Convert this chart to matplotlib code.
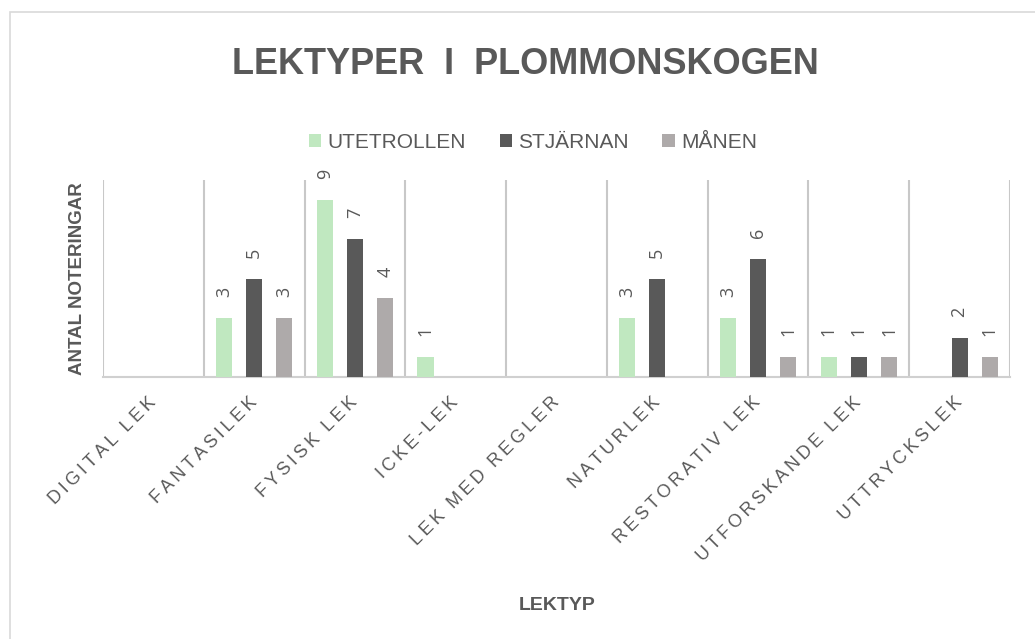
import matplotlib
matplotlib.use("Agg")
import matplotlib.pyplot as plt
import matplotlib.transforms as mtransforms
import numpy as np
from matplotlib.patches import Rectangle

categories = ["DIGITAL LEK", "FANTASILEK", "FYSISK LEK", "ICKE-LEK", "LEK MED REGLER",
              "NATURLEK", "RESTORATIV LEK", "UTFORSKANDE LEK", "UTTRYCKSLEK"]
series_names = ["UTETROLLEN", "STJÄRNAN", "MÅNEN"]
utetrollen = [0, 3, 9, 1, 0, 3, 3, 1, 0]
stjarnan = [0, 5, 7, 0, 0, 5, 6, 1, 2]
manen = [0, 3, 4, 0, 0, 0, 1, 1, 1]
colors = ["#c0e8c0", "#595959", "#aeaaaa"]

plt.rcParams['font.family'] = ['Liberation Sans', 'DejaVu Sans']
txt = "#595959"


def spaced(s, sep="\u2009"):
    return (sep * 3).join(sep.join(list(wd)) for wd in s.split(" "))


fig = plt.figure(figsize=(10.35, 6.39), dpi=100)
fig.patches.append(Rectangle((10/1035, -0.1), 1.2, (639-12)/639 + 0.1, transform=fig.transFigure,
                             fill=False, edgecolor="#d9d9d9", linewidth=1.2))
ax = fig.add_axes([103/1035, 1-377/639, (1010-103)/1035, (377-180)/639])

x = np.arange(len(categories))
w = 0.16
sp = 0.30
for i, (vals, name, c) in enumerate(zip([utetrollen, stjarnan, manen], series_names, colors)):
    xs = x + (i - 1) * sp
    ax.bar(xs, vals, width=w, color=c, label=name, zorder=3)
    for xi, v in zip(xs, vals):
        if v > 0:
            ax.annotate(str(v), (xi, v), xytext=(0, 15), textcoords='offset points',
                        rotation=90, ha='center', va='bottom', fontsize=13, color=txt,
                        family=['Open Sans', 'DejaVu Sans'], annotation_clip=False)

ax.set_xlim(-0.5, len(categories) - 0.5)
ax.set_ylim(0, 10)
for b in np.arange(-0.5, len(categories), 1.0):
    ax.axvline(b, color="#c8c8c8", linewidth=1.5, zorder=1)
for s in ['top', 'left', 'right']:
    ax.spines[s].set_visible(False)
ax.spines['bottom'].set_color("#d0d0d0")
ax.spines['bottom'].set_linewidth(1.5)
ax.set_yticks([])
ax.set_xticks(x)
ax.set_xticklabels([spaced(c) for c in categories], rotation=45, ha='right',
                   rotation_mode='anchor', fontsize=13, color=txt)
ax.tick_params(axis='x', length=0, pad=12)
offset = mtransforms.ScaledTranslation(-6/100, 0, fig.dpi_scale_trans)
for lbl in ax.get_xticklabels():
    lbl.set_transform(lbl.get_transform() + offset)

ax.set_ylabel("ANTAL NOTERINGAR", fontsize=13.5, fontweight='bold', color=txt, labelpad=12)

fig.text(557/1035, 1-605/639, "LEKTYP", ha='center', va='center',
         fontsize=14, fontweight='bold', color=txt)
fig.text(525/1035, 1-64/639, "LEKTYPER  I  PLOMMONSKOGEN", ha='center', va='center',
         fontsize=26, fontweight='bold', color=txt)
leg = fig.legend(loc='center', bbox_to_anchor=(533/1035, 1-142/639), ncol=3, frameon=False,
                 fontsize=15, handlelength=0.6, handleheight=0.6, handletextpad=0.3,
                 columnspacing=1.6)
for t in leg.get_texts():
    t.set_color(txt)

fig.savefig("out.png", dpi=100, facecolor='white')
